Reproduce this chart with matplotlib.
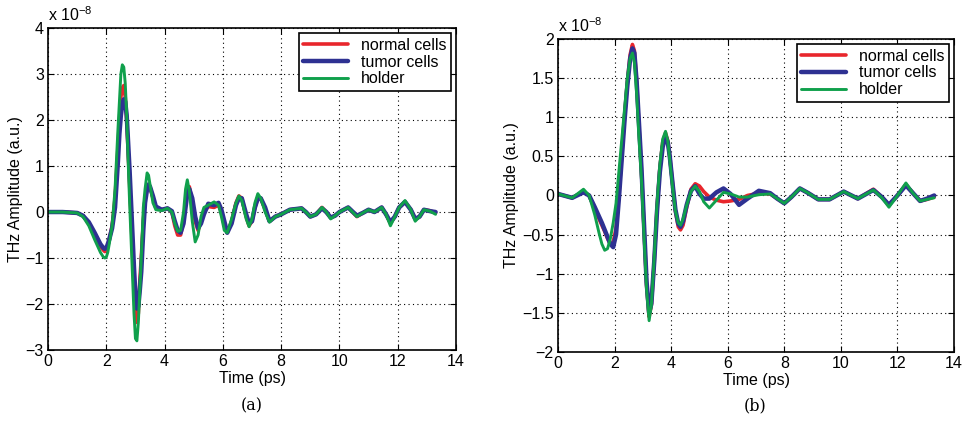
import numpy as np
import matplotlib.pyplot as plt

# amplitudes in units of 1e-8, time in ps
# panel (a)
t_a = [0, 0.5, 1.0, 1.2, 1.4, 1.6, 1.8, 1.9, 1.95, 2.0, 2.05, 2.1, 2.2, 2.3, 2.4, 2.45, 2.5, 2.55, 2.6, 2.65,
       2.7, 2.75, 2.8, 2.85, 2.9, 2.95, 3.0, 3.05, 3.1, 3.15, 3.2, 3.27, 3.33, 3.4, 3.45, 3.5, 3.6, 3.7, 3.9, 4.1,
       4.25, 4.35, 4.45, 4.55, 4.65, 4.72, 4.78, 4.85, 4.95, 5.05, 5.15, 5.25, 5.35, 5.5, 5.7, 5.85, 5.95, 6.05,
       6.15, 6.3, 6.45, 6.55, 6.65, 6.8, 6.9, 7.0, 7.1, 7.2, 7.3, 7.45, 7.6, 7.8, 8.0, 8.3, 8.7, 8.85, 9.0, 9.2,
       9.4, 9.55, 9.7, 9.85, 10.0, 10.3, 10.6, 10.8, 11.0, 11.2, 11.45, 11.6, 11.75, 11.9, 12.05, 12.25, 12.45,
       12.6, 12.75, 12.9, 13.1, 13.3]
holder_a = [0, 0, -0.02, -0.1, -0.3, -0.6, -0.88, -0.98, -1.0, -0.98, -0.88, -0.7, -0.3, 0.5, 1.8, 2.4, 3.0,
            3.2, 3.15, 2.8, 2.1, 1.1, 0.2, -0.6, -1.4, -2.2, -2.75, -2.8, -2.4, -1.7, -1.0, 0.1, 0.5, 0.85, 0.8,
            0.6, 0.2, 0.05, 0.03, 0.08, 0.0, -0.25, -0.42, -0.4, 0.0, 0.5, 0.7, 0.45, -0.2, -0.65, -0.5, -0.1,
            0.1, 0.15, 0.22, 0.15, -0.1, -0.4, -0.45, -0.15, 0.2, 0.35, 0.25, -0.15, -0.32, -0.15, 0.2, 0.4, 0.3,
            0.0, -0.22, -0.1, -0.05, 0.05, 0.08, 0.0, -0.1, -0.05, 0.1, 0.0, -0.15, -0.08, 0.0, 0.1, -0.1, -0.02,
            0.05, 0.0, 0.1, -0.05, -0.3, -0.1, 0.1, 0.25, 0.05, -0.2, -0.1, 0.05, 0.02, -0.05]
normal_a = [0, 0, -0.02, -0.08, -0.25, -0.5, -0.75, -0.83, -0.86, -0.82, -0.75, -0.6, -0.3, 0.3, 1.4, 2.0, 2.5,
            2.7, 2.75, 2.5, 2.0, 1.3, 0.6, -0.1, -0.9, -1.6, -2.2, -2.4, -2.2, -1.5, -1.0, -0.2, 0.3, 0.55, 0.6,
            0.55, 0.3, 0.1, 0.05, 0.08, 0.0, -0.3, -0.5, -0.5, -0.2, 0.2, 0.5, 0.55, 0.2, -0.2, -0.4, -0.2, 0.0,
            0.12, 0.1, 0.15, 0.0, -0.3, -0.45, -0.2, 0.2, 0.35, 0.3, -0.1, -0.3, -0.2, 0.1, 0.3, 0.3, 0.05, -0.2,
            -0.1, -0.05, 0.05, 0.08, 0.0, -0.1, -0.05, 0.1, 0.0, -0.12, -0.08, 0.0, 0.1, -0.1, -0.02, 0.05, 0.0,
            0.1, -0.05, -0.25, -0.1, 0.1, 0.22, 0.05, -0.15, -0.1, 0.05, 0.03, -0.02]
tumor_a = [0, 0, -0.02, -0.08, -0.22, -0.45, -0.7, -0.78, -0.8, -0.78, -0.7, -0.6, -0.35, 0.1, 1.1, 1.7, 2.1,
           2.35, 2.45, 2.4, 2.1, 1.5, 0.9, 0.2, -0.5, -1.2, -1.8, -2.1, -2.05, -1.7, -1.3, -0.4, 0.2, 0.5, 0.6,
           0.55, 0.35, 0.12, 0.05, 0.08, 0.02, -0.2, -0.4, -0.45, -0.25, 0.1, 0.4, 0.5, 0.3, -0.1, -0.35, -0.25,
           -0.05, 0.18, 0.15, 0.2, 0.05, -0.2, -0.45, -0.25, 0.15, 0.3, 0.3, -0.05, -0.25, -0.2, 0.1, 0.3, 0.3,
           0.1, -0.2, -0.1, -0.05, 0.05, 0.08, 0.0, -0.1, -0.05, 0.08, 0.0, -0.12, -0.08, 0.0, 0.1, -0.08, -0.02,
           0.05, 0.0, 0.1, -0.05, -0.22, -0.1, 0.1, 0.22, 0.05, -0.15, -0.1, 0.05, 0.02, 0.0]

# panel (b)
t_b = [0, 0.5, 0.9, 1.1, 1.3, 1.45, 1.55, 1.65, 1.75, 1.85, 1.95, 2.05, 2.15, 2.25, 2.35, 2.45, 2.55, 2.63, 2.7,
       2.78, 2.85, 2.95, 3.05, 3.13, 3.22, 3.3, 3.4, 3.5, 3.6, 3.7, 3.8, 3.88, 3.95, 4.05, 4.15, 4.25, 4.33, 4.42,
       4.55, 4.7, 4.85, 5.0, 5.15, 5.35, 5.6, 5.85, 6.1, 6.4, 6.7, 7.1, 7.5, 7.75, 8.0, 8.25, 8.55, 8.85, 9.2, 9.6,
       10.1, 10.6, 11.15, 11.45, 11.7, 12.0, 12.3, 12.55, 12.8, 13.05, 13.3]
holder_b = [0.02, -0.03, 0.08, 0.0, -0.25, -0.48, -0.62, -0.7, -0.68, -0.55, -0.35, -0.1, 0.3, 0.7, 1.1, 1.5,
            1.75, 1.82, 1.7, 1.3, 0.8, 0.2, -0.6, -1.2, -1.6, -1.4, -0.8, -0.1, 0.4, 0.72, 0.82, 0.7, 0.45, 0.1,
            -0.2, -0.35, -0.38, -0.3, -0.12, 0.05, 0.12, 0.05, -0.08, -0.16, -0.06, 0.04, 0.02, -0.02, -0.02, 0.01,
            0.02, -0.04, -0.1, -0.02, 0.09, 0.03, -0.05, -0.05, 0.05, -0.04, 0.07, -0.03, -0.15, 0.0, 0.16, 0.03,
            -0.07, -0.05, -0.03]
normal_b = [0.02, -0.03, 0.05, 0.0, -0.18, -0.3, -0.38, -0.46, -0.55, -0.62, -0.6, -0.42, 0.0, 0.5, 1.0, 1.45,
            1.8, 1.93, 1.85, 1.45, 0.95, 0.3, -0.5, -1.15, -1.55, -1.4, -0.85, -0.15, 0.35, 0.68, 0.8, 0.7, 0.5,
            0.15, -0.2, -0.4, -0.44, -0.38, -0.15, 0.08, 0.15, 0.12, 0.05, -0.02, -0.06, -0.08, -0.07, -0.05, 0.0,
            0.03, 0.02, -0.04, -0.1, -0.02, 0.09, 0.03, -0.05, -0.05, 0.05, -0.04, 0.08, -0.02, -0.12, 0.0, 0.14,
            0.03, -0.07, -0.05, -0.02]
tumor_b = [0.02, -0.03, 0.04, 0.0, -0.15, -0.27, -0.35, -0.44, -0.53, -0.62, -0.66, -0.5, -0.05, 0.45, 0.95, 1.4,
           1.75, 1.88, 1.82, 1.45, 1.0, 0.35, -0.45, -1.1, -1.5, -1.38, -0.85, -0.2, 0.3, 0.62, 0.76, 0.68, 0.5,
           0.15, -0.18, -0.36, -0.4, -0.33, -0.12, 0.06, 0.12, 0.02, -0.04, -0.04, 0.04, 0.09, 0.02, -0.12, -0.04,
           0.06, 0.03, -0.04, -0.1, -0.02, 0.09, 0.03, -0.05, -0.05, 0.05, -0.04, 0.07, -0.02, -0.12, 0.0, 0.13,
           0.03, -0.07, -0.04, 0.0]

labels = ['normal cells', 'tumor cells', 'holder']
colors = ['#e8262c', '#2e3192', '#10a04c']
widths = [2.6, 3.2, 2.1]

plt.rcParams['font.family'] = ['Liberation Sans', 'DejaVu Sans']
plt.rcParams['font.size'] = 11.5

fig = plt.figure(figsize=(9.7, 4.36), dpi=100)
ax1 = fig.add_axes([0.0495, 0.1972, 0.4206, 0.7385])
ax2 = fig.add_axes([0.5753, 0.1927, 0.4082, 0.7179])

panels = [(ax1, t_a, [normal_a, tumor_a, holder_a], (-3, 4), np.arange(-3, 5, 1)),
          (ax2, t_b, [normal_b, tumor_b, holder_b], (-2, 2), np.arange(-2, 2.5, 0.5))]

for ax, tt, series, ylim, yt in panels:
    for yy, lab, cc, lw in zip(series, labels, colors, widths):
        ax.plot(tt, yy, color=cc, lw=lw, label=lab, solid_joinstyle='round', solid_capstyle='round')
    ax.set_xlim(0, 14)
    ax.set_ylim(*ylim)
    ax.set_xticks(np.arange(0, 15, 2))
    ax.set_yticks(yt)
    ax.set_yticklabels(['{:g}'.format(v).replace('-', '\u2212') for v in yt])
    ax.grid(True, color='black', linestyle=(0, (1, 3)), linewidth=0.8)
    ax.tick_params(direction='in', top=True, right=True, length=4, pad=3)
    for sp in ax.spines.values():
        sp.set_linewidth(1.2)
    ax.set_xlabel('Time (ps)', labelpad=1)
    ax.set_ylabel('THz Amplitude (a.u.)', labelpad=2)
    ax.text(0.0, 1.012, r'x 10$^{\mathregular{-8}}$', transform=ax.transAxes, fontsize=11.5,
            va='bottom', ha='left')
    leg = ax.legend(loc='upper right', fancybox=False, edgecolor='black', framealpha=1,
                    borderaxespad=0.3, handlelength=2.8, labelspacing=0.12, borderpad=0.3, fontsize=11.5)
    leg.get_frame().set_linewidth(1.2)

fig.text(0.26, 0.07, '(a)', ha='center', va='center', fontsize=11.5, family='DejaVu Serif')
fig.text(0.778, 0.07, '(b)', ha='center', va='center', fontsize=11.5, family='DejaVu Serif')

fig.savefig('out.png', dpi=100)
